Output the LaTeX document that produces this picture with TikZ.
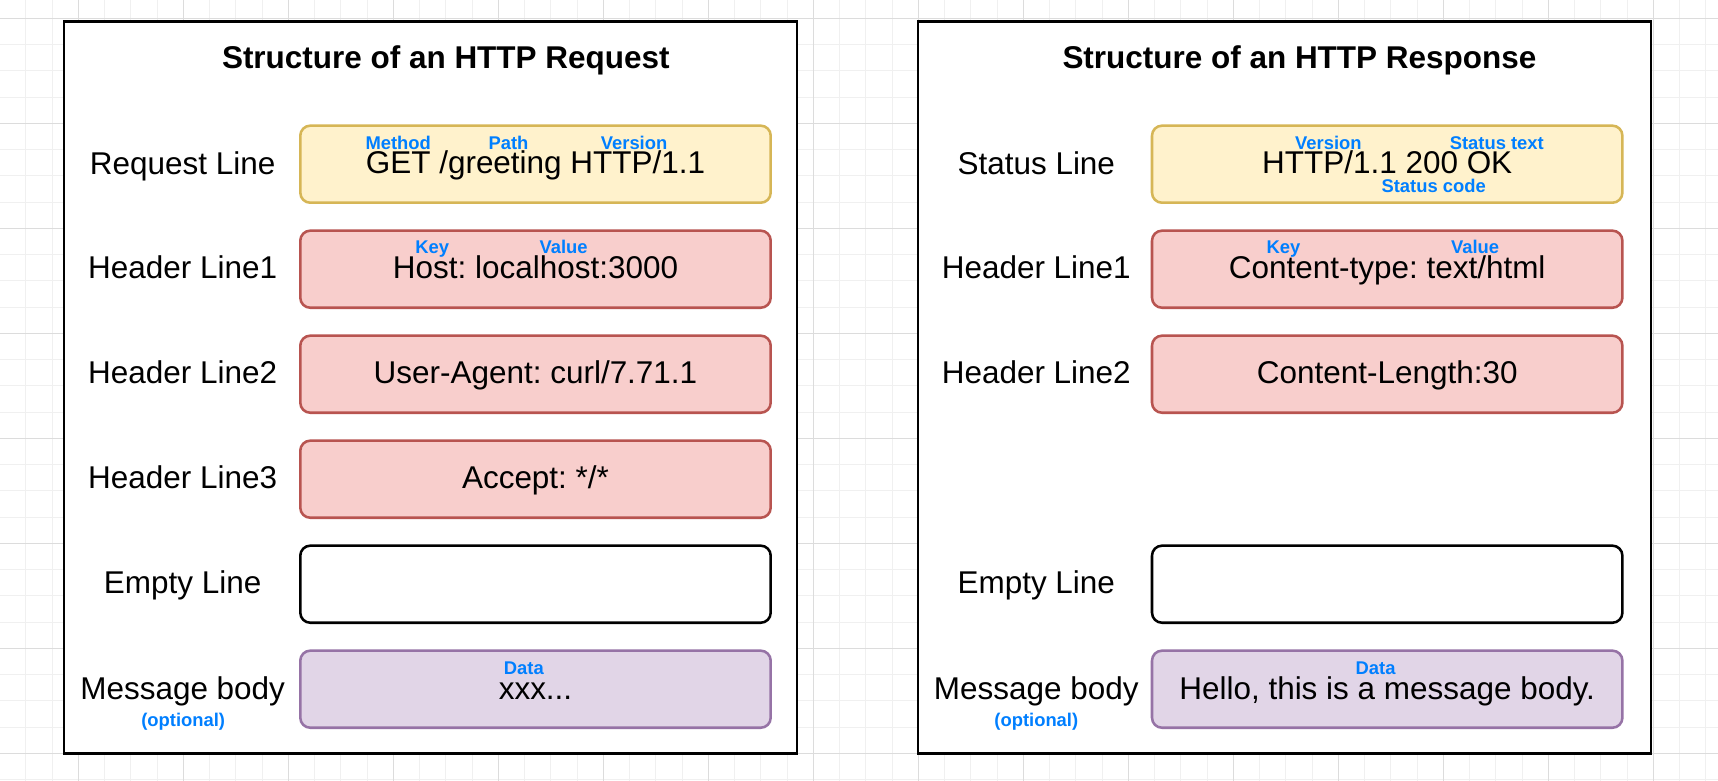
\documentclass[tikz,border=0pt]{standalone}
\usepackage{fontspec}
\setmainfont{Liberation Sans}
\frenchspacing
\newcommand\mainfs{\fontsize{23.6pt}{28pt}\selectfont\frenchspacing}
\newcommand\lblfs{\fontsize{13.8pt}{16pt}\selectfont\bfseries\frenchspacing}
\definecolor{gridminor}{HTML}{F0F0F0}
\definecolor{gridmajor}{HTML}{DCDCDC}
\definecolor{ylwfill}{HTML}{FFF2CC}
\definecolor{ylwdraw}{HTML}{D6B656}
\definecolor{redfill}{HTML}{F8CECC}
\definecolor{reddraw}{HTML}{B85450}
\definecolor{purfill}{HTML}{E1D5E7}
\definecolor{purdraw}{HTML}{9673A6}
\definecolor{lblblue}{HTML}{007FFF}
\begin{document}
\begin{tikzpicture}[x=0.75pt,y=-0.75pt,
  every node/.style={inner sep=0pt, outer sep=0pt},
  panel/.style={draw=black, line width=1.95pt, fill=white, minimum width=550pt, minimum height=549.3pt},
  fieldbox/.style={line width=1.9pt, rounded corners=7.5pt, minimum width=352.8pt, minimum height=57.8pt},
  yellowbox/.style={fieldbox, draw=ylwdraw, fill=ylwfill},
  redbox/.style={fieldbox, draw=reddraw, fill=redfill},
  purplebox/.style={fieldbox, draw=purdraw, fill=purfill},
  emptybox/.style={fieldbox, draw=black, fill=white},
  maintext/.style={anchor=base, font=\mainfs, text=black},
  titletext/.style={anchor=base, font=\mainfs\bfseries, text=black},
  bluetext/.style={anchor=base, font=\lblfs, text=lblblue},
  gridmin/.style={draw=gridminor, line width=0.75pt},
  gridmaj/.style={draw=gridmajor, line width=0.75pt}
]
% canvas
\fill[white] (0,0) rectangle (1718,781);
\useasboundingbox (0,0) rectangle (1718,781);
% grid
\foreach \i in {1,...,65} { \draw[gridmin] ({-0.35+26.25*\i},0) -- ({-0.35+26.25*\i},781); }
\foreach \i in {1,...,30} { \draw[gridmin] (0,{-7.95+26.25*\i}) -- (1718,{-7.95+26.25*\i}); }
\foreach \k in {0,...,15} { \draw[gridmaj] ({78.4+105*\k},0) -- ({78.4+105*\k},781); }
\foreach \k in {0,...,7} { \draw[gridmaj] (0,{18.3+105*\k}) -- (1718,{18.3+105*\k}); }

% ===== Request panel =====
\node[panel] (panL) at (430.5,387.5) {};
\node[titletext] (titleL) at (445.8,68.5) {Structure of an HTTP Request};

\node[yellowbox] (reqline) at (535.5,164.2) {};
\node[redbox] (reqh1) at (535.5,269.2) {};
\node[redbox] (reqh2) at (535.5,374.2) {};
\node[redbox] (reqh3) at (535.5,479.2) {};
\node[emptybox] (reqempty) at (535.5,584.2) {};
\node[purplebox] (reqbody) at (535.5,689.2) {};

\node[maintext] (t-req) at (535.5,174) {GET /greeting HTTP/1.1};
\node[bluetext] (b-method) at (398.2,149.3) {Method};
\node[bluetext] (b-path) at (508.5,149.3) {Path};
\node[bluetext] (b-ver) at (634.1,149.3) {Version};

\node[maintext] (t-host) at (535.5,278.6) {Host: localhost:3000};
\node[bluetext] (b-key1) at (432.2,253.8) {Key};
\node[bluetext] (b-val1) at (563.6,253.8) {Value};

\node[maintext] (t-ua) at (535.5,383.8) {User-Agent: curl/7.71.1};
\node[maintext] (t-acc) at (535.5,488.8) {Accept: */*};

\node[maintext] (t-xxx) at (535.5,699.2) {xxx...};
\node[bluetext] (b-data1) at (523.8,674) {Data};

\node[maintext] (l-req) at (182.7,174.3) {Request Line};
\node[maintext] (l-h1) at (182.7,278.8) {Header Line1};
\node[maintext] (l-h2) at (182.7,383.8) {Header Line2};
\node[maintext] (l-h3) at (182.7,488.8) {Header Line3};
\node[maintext] (l-empty) at (182.7,593.8) {Empty Line};
\node[maintext] (l-body) at (182.7,699) {Message body};
\node[bluetext] (l-opt) at (183.2,726) {(optional)};

% ===== Response panel =====
\node[panel] (panR) at (1284.5,387.5) {};
\node[titletext] (titleR) at (1299.4,68.5) {Structure of an HTTP Response};

\node[yellowbox] (stline) at (1387.2,164.2) {};
\node[redbox] (resh1) at (1387.2,269.2) {};
\node[redbox] (resh2) at (1387.2,374.2) {};
\node[emptybox] (resempty) at (1387.2,584.2) {};
\node[purplebox] (resbody) at (1387.2,689.2) {};

\node[maintext] (t-st) at (1387.2,174) {HTTP/1.1 200 OK};
\node[bluetext] (b-ver2) at (1328.4,149.3) {Version};
\node[bluetext] (b-sttext) at (1496.8,149.3) {Status text};
\node[bluetext] (b-stcode) at (1433.7,192.7) {Status code};

\node[maintext] (t-ct) at (1387.2,278.6) {Content-type: text/html};
\node[bluetext] (b-key2) at (1283.5,253.8) {Key};
\node[bluetext] (b-val2) at (1475.1,253.8) {Value};

\node[maintext] (t-cl) at (1387.2,383.8) {Content-Length:30};

\node[maintext] (t-hello) at (1387.2,699.2) {Hello, this is a message body.};
\node[bluetext] (b-data2) at (1375.6,674) {Data};

\node[maintext] (l-st) at (1036.3,174.3) {Status Line};
\node[maintext] (l-rh1) at (1036.3,278.8) {Header Line1};
\node[maintext] (l-rh2) at (1036.3,383.8) {Header Line2};
\node[maintext] (l-rempty) at (1036.3,593.8) {Empty Line};
\node[maintext] (l-rbody) at (1036.3,699) {Message body};
\node[bluetext] (l-ropt) at (1036.3,726) {(optional)};
\end{tikzpicture}
\end{document}
